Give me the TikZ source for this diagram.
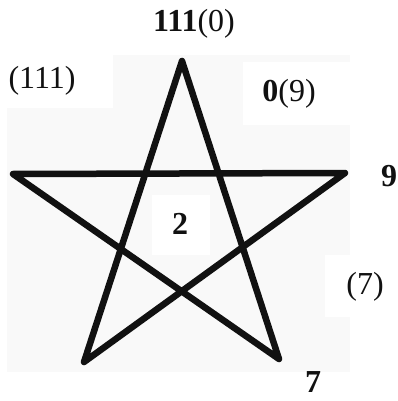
\documentclass[tikz,border=0pt]{standalone}
\usepackage{fontspec}
\setmainfont{Liberation Serif}
\usepackage{tikz}
\usetikzlibrary{positioning}
\definecolor{Ink}{HTML}{111111}
\definecolor{Paper}{HTML}{F9F9F9}

\begin{document}
\begin{tikzpicture}[x=1pt,y=-1pt,
  lbl/.style={inner sep=0pt,font=\fontsize{32}{35}\selectfont,text=Ink},
  patch/.style={fill=white,draw=none},
  starline/.style={line width=6.5pt,line join=round,line cap=round,draw=Ink}
]
  \useasboundingbox (0,0) rectangle (398,401);
  % faint backdrop of the star picture, with white label patches
  \fill[Paper] (7,55) rectangle (350,372);
  \fill[patch] (0,40) rectangle (113,108);
  \fill[patch] (243,62) rectangle (350,125);
  \fill[patch] (152,195) rectangle (210,255);
  \fill[patch] (325,255) rectangle (398,317);
  % star corners
  \coordinate (top) at (182,61);
  \coordinate (left) at (13,174);
  \coordinate (right) at (345,173);
  \coordinate (botL) at (84,362);
  \coordinate (botR) at (279,359);
  \draw[starline] (top) -- (botL) -- (right) -- (left) -- (botR) -- cycle;
  % labels
  \node[lbl] (tTop) at (194,24) {\textbf{111}(0)};
  \node[lbl] (tTopL) at (42,81) {(111)};
  \node[lbl] (tTopR) at (289,94) {\textbf{0}(9)};
  \node[lbl] (tRight) at (389,176) {\textbf{9}};
  \node[lbl] (tMid) at (180,224) {\textbf{2}};
  \node[lbl] (tRightL) at (365,287) {(7)};
  \node[lbl] (tBot) at (313,382) {\textbf{7}};
\end{tikzpicture}
\end{document}
